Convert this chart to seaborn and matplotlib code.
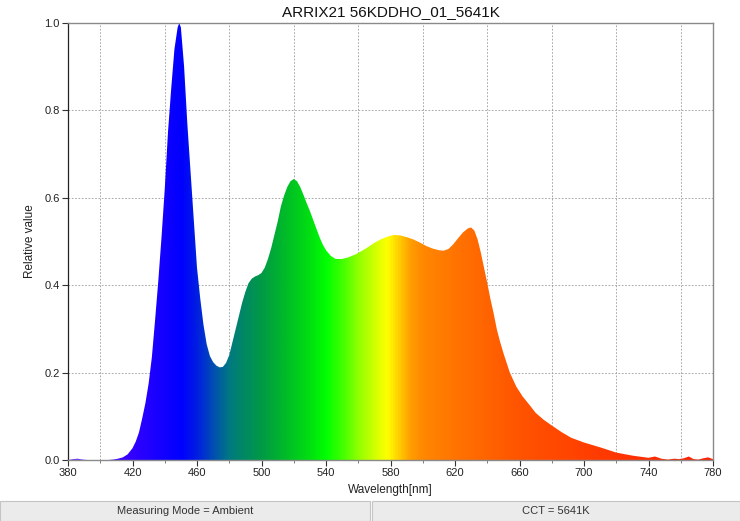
import numpy as np
import pandas as pd
import matplotlib
matplotlib.use("Agg")
import matplotlib.pyplot as plt
import seaborn as sns
from matplotlib.colors import LinearSegmentedColormap
from matplotlib.patches import Rectangle

# ---------------- data ----------------
title = "ARRIX21 56KDDHO_01_5641K"
x_label = "Wavelength[nm]"
y_label = "Relative value"
footer_labels = ["Measuring Mode = Ambient", "CCT = 5641K"]

wavelength = [380, 383, 386, 389, 392, 400, 405, 408, 411, 414, 417, 420, 422, 424, 426, 428,
              430, 432, 434, 436, 438, 440, 442, 444, 446, 448, 449, 450, 452, 454, 456, 458,
              460, 462, 464, 466, 468, 470, 472, 474, 476, 478, 480, 482, 484, 486, 488, 490,
              492, 494, 496, 498, 500, 502, 504, 506, 508, 510, 512, 514, 516, 518, 520, 522,
              524, 526, 528, 530, 532, 534, 536, 538, 540, 543, 546, 550, 554, 558, 562, 566,
              570, 574, 578, 582, 586, 590, 594, 598, 602, 606, 610, 613, 616, 619, 622, 625,
              628, 630, 632, 634, 636, 638, 640, 642, 644, 646, 648, 650, 654, 658, 662, 666,
              670, 675, 680, 686, 692, 700, 710, 720, 730, 740, 744, 748, 752, 756, 759, 762,
              765, 768, 771, 774, 777, 780]
relative = [0.0, 0.002, 0.003, 0.001, 0.0, 0.0, 0.0, 0.001, 0.003, 0.006, 0.013, 0.027, 0.042, 0.063, 0.095, 0.13,
            0.175, 0.235, 0.32, 0.41, 0.51, 0.62, 0.75, 0.85, 0.94, 0.99, 1.0, 0.99, 0.90, 0.77, 0.66, 0.55,
            0.44, 0.37, 0.31, 0.265, 0.238, 0.224, 0.216, 0.212, 0.213, 0.222, 0.24, 0.27, 0.30, 0.33, 0.36, 0.385,
            0.405, 0.415, 0.42, 0.423, 0.428, 0.44, 0.46, 0.485, 0.515, 0.545, 0.58, 0.605, 0.625, 0.638, 0.643, 0.638,
            0.625, 0.607, 0.588, 0.57, 0.55, 0.53, 0.51, 0.493, 0.48, 0.467, 0.46, 0.46, 0.464, 0.47, 0.478, 0.487,
            0.497, 0.505, 0.511, 0.515, 0.514, 0.51, 0.505, 0.498, 0.49, 0.484, 0.48, 0.479, 0.483, 0.494, 0.508, 0.521,
            0.53, 0.532, 0.525, 0.505, 0.475, 0.44, 0.405, 0.368, 0.335, 0.298, 0.27, 0.245, 0.2, 0.168, 0.145, 0.127,
            0.108, 0.092, 0.079, 0.064, 0.051, 0.04, 0.029, 0.017, 0.01, 0.005, 0.008, 0.003, 0.001, 0.003, 0.002, 0.004,
            0.008, 0.002, 0.001, 0.004, 0.006, 0.002]

x_ticks = [380, 420, 460, 500, 540, 580, 620, 660, 700, 740, 780]
x_grid = [400, 420, 440, 460, 480, 500, 520, 540, 560, 580, 600, 620, 640, 660, 680, 700, 720, 740, 760]
y_ticks = [0.0, 0.2, 0.4, 0.6, 0.8, 1.0]

color_nm = [380, 410, 420, 440, 450, 460, 470, 480, 490, 500, 510, 520, 530, 540, 550, 560,
            570, 578, 585, 592, 600, 620, 640, 660, 700, 740, 780]
color_hex = ["#7a40ff", "#4000ff", "#3000ff", "#1000ff", "#0000ff", "#0020e0", "#0050b0", "#007a80",
             "#008a60", "#009a45", "#00b030", "#00c820", "#00e010", "#00ff00", "#40ff00", "#90ff00",
             "#d0ff00", "#ffff00", "#ffd000", "#ffa000", "#ff8800", "#ff7400", "#ff6400", "#ff5400",
             "#ff4000", "#ff2c00", "#ff2000"]

# ---------------- style ----------------
sns.set_theme(style="white")
plt.rcParams["font.family"] = ["Liberation Sans", "DejaVu Sans"]

fig = plt.figure(figsize=(7.4, 5.21), dpi=100)
fig.patch.set_facecolor("white")
ax = fig.add_axes([68 / 740, 1 - 460 / 521, (713 - 68) / 740, (460 - 23) / 521])

df = pd.DataFrame({"Wavelength": wavelength, "Relative": relative})
sns.lineplot(data=df, x="Wavelength", y="Relative", ax=ax, color="#0000ff", linewidth=0)

poly = ax.fill_between(df["Wavelength"], 0, df["Relative"], facecolor="none", linewidth=0)

lo, hi = 380, 780
stops = [((n - lo) / (hi - lo), c) for n, c in zip(color_nm, color_hex)]
cmap = LinearSegmentedColormap.from_list("spectrum", stops)
grad = np.linspace(0, 1, 1200).reshape(1, -1)
im = ax.imshow(grad, aspect="auto", cmap=cmap, extent=[lo, hi, 0, 1],
               origin="lower", zorder=2, interpolation="bilinear")
im.set_clip_path(poly.get_paths()[0], transform=ax.transData)

ax.set_xlim(lo, hi)
ax.set_ylim(0, 1)
ax.set_xticks(x_ticks)
ax.set_xticklabels([str(t) for t in x_ticks])
ax.set_xticks(x_grid, minor=True)
ax.set_yticks(y_ticks)
ax.set_yticklabels([f"{t:.1f}" for t in y_ticks])

ax.set_axisbelow(True)
grid_kw = dict(color="#9a9a9a", linestyle=(0, (2, 2)), linewidth=0.6)
ax.grid(False)
ax.xaxis.grid(True, which="minor", **grid_kw)
ax.yaxis.grid(True, which="major", **grid_kw)

ax.tick_params(axis="both", which="major", direction="out", length=4, width=0.8,
               colors="#333333", labelsize=8, labelcolor="#222222", pad=2)
ax.tick_params(axis="x", which="minor", direction="out", length=2, width=0.6, colors="#666666")
ax.tick_params(bottom=True, left=True)
ax.tick_params(axis="x", which="minor", bottom=True)

for side in ["top", "right", "bottom"]:
    ax.spines[side].set_color("#8a8a8a")
    ax.spines[side].set_linewidth(1.0)
ax.spines["left"].set_color("#222222")
ax.spines["left"].set_linewidth(0.9)

ax.set_title(title, fontsize=11, color="#111111", pad=5)
ax.set_xlabel(x_label, fontsize=8.5, color="#222222", labelpad=4)
ax.set_ylabel(y_label, fontsize=8.5, color="#222222", labelpad=6)

# footer boxes
box_h = 20 / 521
fig.patches.append(Rectangle((0, 0), 370 / 740, box_h, transform=fig.transFigure,
                             facecolor="#ebebeb", edgecolor="#c4c4c4", linewidth=0.8))
fig.patches.append(Rectangle((372 / 740, 0), 368 / 740, box_h, transform=fig.transFigure,
                             facecolor="#ebebeb", edgecolor="#c4c4c4", linewidth=0.8))
fig.text(185 / 740, box_h / 2, footer_labels[0], ha="center", va="center", fontsize=8, color="#333333")
fig.text(556 / 740, box_h / 2, footer_labels[1], ha="center", va="center", fontsize=8, color="#333333")

fig.savefig("out.png", dpi=100, facecolor="white")
